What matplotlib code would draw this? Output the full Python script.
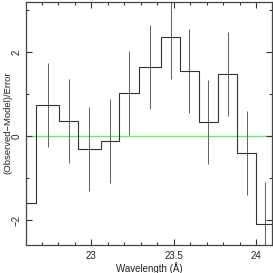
import numpy as np
import matplotlib
matplotlib.use('Agg')
import matplotlib.pyplot as plt
from matplotlib.ticker import MultipleLocator, FuncFormatter

# bin edges / centres in Angstrom, residuals in sigma
edges = [22.545, 22.665, 22.808, 22.923, 23.059, 23.172, 23.289,
         23.424, 23.539, 23.655, 23.770, 23.883, 23.998, 24.115]
centers = [22.605, 22.738, 22.865, 22.990, 23.117, 23.230, 23.356,
           23.483, 23.594, 23.711, 23.828, 23.945, 24.056]
resid = [-1.60, 0.74, 0.36, -0.30, -0.12, 1.02, 1.64,
         2.37, 1.55, 0.33, 1.48, -0.39, -2.09]
err = [1.0, 1.0, 1.0, 1.0, 1.0, 1.0, 1.0, 1.0, 1.0, 1.0, 1.0, 1.0, 1.0]

plt.rcParams['font.family'] = ['Liberation Sans', 'DejaVu Sans']

fig = plt.figure(figsize=(2.73, 2.73), dpi=100)
ax = fig.add_axes([26/273, 1 - 245/273, (271.7 - 26)/273, (245 - 1.5)/273])

ax.axhline(0, color='#66ee66', lw=1.0, zorder=1)
ax.errorbar(centers, resid, yerr=err, fmt='none', ecolor='#666666',
            elinewidth=0.75, capsize=0, zorder=2)
ax.stairs(resid, edges, color='#333333', lw=0.8, zorder=3)

ax.set_xlim(22.606, 24.095)
ax.set_ylim(-2.59, 3.21)

ax.xaxis.set_major_locator(MultipleLocator(0.5))
ax.xaxis.set_minor_locator(MultipleLocator(0.1))
ax.yaxis.set_major_locator(MultipleLocator(2))
ax.yaxis.set_minor_locator(MultipleLocator(1))
ax.xaxis.set_major_formatter(FuncFormatter(lambda v, p: '%g' % v))

ax.tick_params(which='both', direction='in', top=True, right=True,
               color='#333333', width=0.8, labelsize=7, labelcolor='#222222')
ax.tick_params(which='major', length=4)
ax.tick_params(which='minor', length=2.5)
ax.tick_params(axis='y', labelrotation=90, pad=3)
ax.tick_params(axis='x', pad=4)
for lab in ax.get_yticklabels():
    lab.set_va('center')

for s in ax.spines.values():
    s.set_color('#444444')
    s.set_linewidth(0.9)

ax.set_xlabel('Wavelength (Å)', fontsize=7,
              family=['Liberation Sans Narrow', 'Liberation Sans', 'DejaVu Sans'],
              labelpad=1, color='#222222')
ax.set_ylabel('(Observed\u2212Model)/Error', fontsize=6.8, color='#222222')
ax.yaxis.set_label_coords(-0.055, 0.5)

fig.savefig('out.png', dpi=100)
